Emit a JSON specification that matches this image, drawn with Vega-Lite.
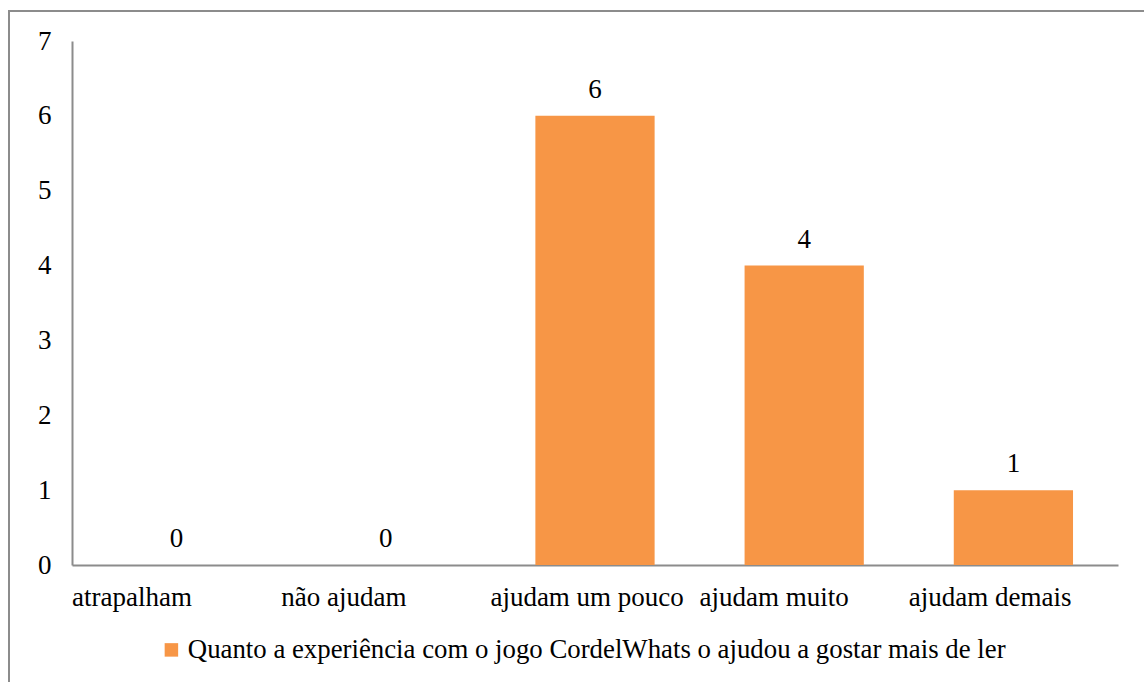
{
  "$schema": "https://vega.github.io/schema/vega-lite/v6.json",
  "width": 1144,
  "height": 680,
  "autosize": "none",
  "padding": {"left": 9, "top": 11, "right": 0, "bottom": 0},
  "background": "white",
  "config": {
    "view": {"stroke": "#8c8c8c", "strokeWidth": 2},
    "axis": {"labelFont": "Liberation Serif", "labelFontSize": 27, "labelColor": "#000000", "grid": false, "ticks": false, "domainColor": "#8c8c8c", "domainWidth": 2, "title": null, "labelLimit": 400},
    "legend": {"labelFont": "Liberation Serif", "labelFontSize": 26.8, "labelColor": "#000000"}
  },
  "data": {
    "values": [
      {"cat": "atrapalham", "value": 0, "serie": "Quanto a experiência com o jogo CordelWhats o ajudou a gostar mais de ler"},
      {"cat": "não ajudam", "value": 0, "serie": "Quanto a experiência com o jogo CordelWhats o ajudou a gostar mais de ler"},
      {"cat": "ajudam um pouco", "value": 6, "serie": "Quanto a experiência com o jogo CordelWhats o ajudou a gostar mais de ler"},
      {"cat": "ajudam muito", "value": 4, "serie": "Quanto a experiência com o jogo CordelWhats o ajudou a gostar mais de ler"},
      {"cat": "ajudam demais", "value": 1, "serie": "Quanto a experiência com o jogo CordelWhats o ajudou a gostar mais de ler"}
    ]
  },
  "encoding": {
    "x": {
      "field": "cat", "type": "nominal", "sort": null,
      "scale": {"range": [63, 1109], "paddingInner": 0.43, "paddingOuter": 0.215},
      "axis": {"offset": -126, "labelAngle": 0, "labelAlign": "left", "labelOffset": -104.6, "labelPadding": 40, "labelBaseline": "alphabetic", "labelOverlap": false, "labelBound": false, "labelLimit": 400}
    },
    "y": {
      "field": "value", "type": "quantitative",
      "scale": {"domain": [0, 7], "nice": false, "range": [554, 30]},
      "axis": {"offset": -63, "values": [0, 1, 2, 3, 4, 5, 6, 7], "labelPadding": 21, "labelBaseline": "middle"}
    }
  },
  "layer": [
    {
      "mark": {"type": "bar", "color": "#F79646"},
      "encoding": {
        "color": {
          "field": "serie", "type": "nominal",
          "scale": {"range": ["#F79646"]},
          "legend": {"title": null, "orient": "none", "legendX": 149, "legendY": 625.5, "symbolType": "square", "symbolSize": 182, "symbolStrokeWidth": 0, "labelOffset": 3, "labelLimit": 1200}
        }
      }
    },
    {
      "mark": {"type": "text", "font": "Liberation Serif", "fontSize": 27, "baseline": "alphabetic", "dy": -18, "color": "#000000"},
      "encoding": {"text": {"field": "value", "type": "quantitative"}}
    }
  ]
}
